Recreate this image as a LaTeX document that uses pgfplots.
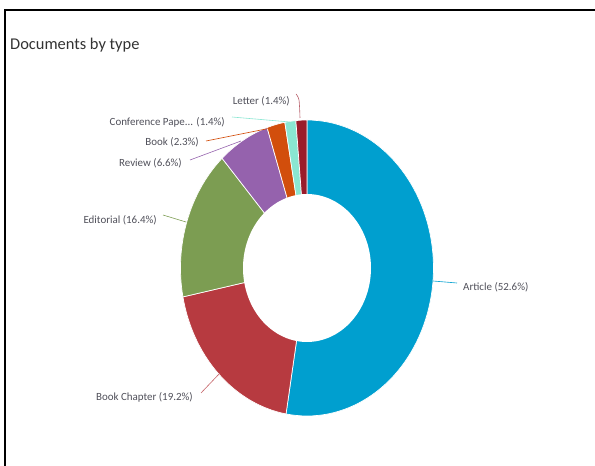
\documentclass[border=0pt]{standalone}
\usepackage{pgfplots}
\pgfplotsset{compat=1.18}
\usepackage{fontspec}
\setmainfont{Carlito}
\definecolor{cArticle}{RGB}{0,159,207}
\definecolor{cChapter}{RGB}{183,58,64}
\definecolor{cEditorial}{RGB}{124,157,82}
\definecolor{cReview}{RGB}{149,98,173}
\definecolor{cBook}{RGB}{210,78,12}
\definecolor{cConf}{RGB}{138,230,210}
\definecolor{cLetter}{RGB}{154,28,43}
\definecolor{labelgray}{RGB}{80,80,90}
% share of each document type (%), in drawing order from 12 o'clock clockwise
% Article 52.6, Book Chapter 19.2, Editorial 16.4, Review 6.6, Book 2.3, Conference Paper 1.4, Letter 1.4 (total 99.9)
% #1 cumulative start, #2 cumulative end (percent), #3 colour
\newcommand{\slice}[3]{%
  \addplot[fill=#3, draw=white, line width=0.7pt, domain={90-360*#2/99.9}:{90-360*#1/99.9}, samples=80]
    ({307+126.5*cos(x)},{198+148*sin(x)}) -- (axis cs:307,198) -- cycle;}
\begin{document}
\begin{tikzpicture}
\path[use as bounding box] (0,0) rectangle (595bp,466bp);
\begin{axis}[at={(0,0)}, anchor=origin, x=1bp, y=1bp,
  xmin=0, xmax=595, ymin=0, ymax=466, hide axis, clip=false]
\slice{0}{52.6}{cArticle}
\slice{52.6}{71.8}{cChapter}
\slice{71.8}{88.2}{cEditorial}
\slice{88.2}{94.8}{cReview}
\slice{94.8}{97.1}{cBook}
\slice{97.1}{98.5}{cConf}
\slice{98.5}{99.9}{cLetter}
\addplot[fill=white, draw=none, domain=0:360, samples=120]
  ({307+64*cos(x)},{198+74*sin(x)}) -- cycle;
% leader lines
\addplot[cLetter!70, line width=0.6pt, smooth] coordinates {(296,372) (299,366) (300,348)};
\addplot[cConf, line width=0.6pt] coordinates {(232,349) (290,344)};
\addplot[cBook, line width=0.6pt] coordinates {(206,325) (276,339)};
\addplot[cReview, line width=0.6pt] coordinates {(190,306) (241,325)};
\addplot[cEditorial, line width=0.6pt] coordinates {(163,251) (186,244)};
\addplot[cChapter!80, line width=0.6pt] coordinates {(201,73) (220,93)};
\addplot[cArticle, line width=0.6pt] coordinates {(433,185) (457,183)};
% labels
\begin{scope}[every node/.style={font=\fontsize{11}{13}\selectfont, text=labelgray, inner sep=0pt}]
\node[anchor=east] at (axis cs:290,365) {Letter (1.4\%)};
\node[anchor=east] at (axis cs:225,344) {Conference Pape... (1.4\%)};
\node[anchor=east] at (axis cs:199,324) {Book (2.3\%)};
\node[anchor=east] at (axis cs:182,303) {Review (6.6\%)};
\node[anchor=east] at (axis cs:157,246) {Editorial (16.4\%)};
\node[anchor=east] at (axis cs:193,69) {Book Chapter (19.2\%)};
\node[anchor=west] at (axis cs:463,179) {Article (52.6\%)};
\end{scope}
\node[anchor=west, inner sep=0pt, font=\fontsize{16.5}{19}\selectfont, text=black!80] at (axis cs:10,421) {Documents by type};
\draw[black, line width=2.5bp] (axis cs:5,-5) -- (axis cs:5,456) -- (axis cs:600,456);
\end{axis}
\end{tikzpicture}
\end{document}
